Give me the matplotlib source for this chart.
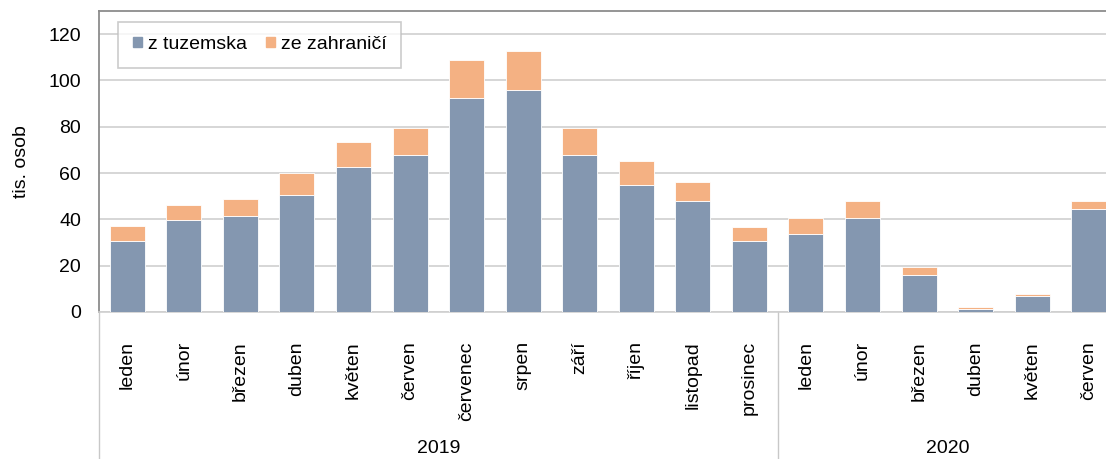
import matplotlib
matplotlib.use("Agg")
import matplotlib.pyplot as plt
import numpy as np
from matplotlib.patches import Patch

plt.rcParams["font.family"] = ["Liberation Sans", "DejaVu Sans"]

mesice = ["leden", "únor", "březen", "duben", "květen", "červen", "červenec", "srpen",
          "září", "říjen", "listopad", "prosinec",
          "leden", "únor", "březen", "duben", "květen", "červen"]
roky = ["2019", "2020"]
pocet_mesicu = [12, 6]
tuzemsko = [30.7, 39.7, 41.4, 50.5, 62.7, 67.6, 92.3, 95.8, 67.6, 54.7, 48.0, 30.7,
            33.9, 40.5, 15.9, 1.2, 7.1, 44.6]
celkem = [37.2, 46.3, 48.7, 60.1, 73.4, 79.3, 108.7, 112.9, 79.3, 65.2, 56.2, 36.5,
          40.5, 47.9, 19.3, 2.0, 7.6, 47.9]
zahranici = [c - t for c, t in zip(celkem, tuzemsko)]

C_TUZ = "#8497B0"
C_ZAH = "#F4B183"
GRID = "#cfcfcf"
FS = 14

fig = plt.figure(figsize=(11.06, 4.59), dpi=100)
W, H = 1106, 459
x0, x1, y0, y1 = 99, 1117, 312, 11
ax = fig.add_axes([x0 / W, 1 - y0 / H, (x1 - x0) / W, (y0 - y1) / H])

x = np.arange(len(mesice))
ax.bar(x, tuzemsko, 0.62, color=C_TUZ, edgecolor="white", linewidth=0.6, zorder=3)
ax.bar(x, zahranici, 0.62, bottom=tuzemsko, color=C_ZAH, edgecolor="white", linewidth=0.6, zorder=3)

ax.set_xlim(-0.5, len(mesice) - 0.5)
ax.set_ylim(0, 130)
ax.set_yticks(range(0, 121, 20))
ax.yaxis.grid(True, color=GRID, lw=1.2, zorder=0)
ax.tick_params(axis="y", length=0, labelsize=FS, pad=13)
ax.set_ylabel("tis. osob", fontsize=FS, labelpad=13)
for s in ["top", "left"]:
    ax.spines[s].set_color("#8c8c8c")
    ax.spines[s].set_linewidth(1.3)
ax.spines["right"].set_visible(False)
ax.spines["bottom"].set_color(GRID)
ax.spines["bottom"].set_linewidth(1.2)

ax.set_xticks(x)
ax.set_xticklabels(mesice, rotation=90, fontsize=FS, va="top")
ax.tick_params(axis="x", length=0, pad=21)

# oddělovače a popisky let
sep_y = -(H - y0) / (y0 - y1)
hranice = np.cumsum([0] + pocet_mesicu) - 0.5
trans = ax.get_xaxis_transform()
for b in hranice[:-1]:
    ax.plot([b, b], [0, sep_y], color="#c8c8c8", lw=1, transform=trans, clip_on=False)
for r, a, b in zip(roky, hranice[:-1], hranice[1:]):
    ax.text((a + b) / 2, -0.455, r, transform=trans, ha="center", va="center", fontsize=FS)

leg = ax.legend(handles=[Patch(color=C_TUZ, label="z tuzemska"), Patch(color=C_ZAH, label="ze zahraničí")],
                loc="upper left", bbox_to_anchor=(0.019, 0.965), ncol=2, fontsize=FS,
                frameon=True, fancybox=False, edgecolor="#bfbfbf", handlelength=0.45, handleheight=0.45,
                handletextpad=0.3, columnspacing=1.0, borderpad=0.75, borderaxespad=0)
leg.get_frame().set_linewidth(1.2)

fig.savefig("out.png", dpi=100)
